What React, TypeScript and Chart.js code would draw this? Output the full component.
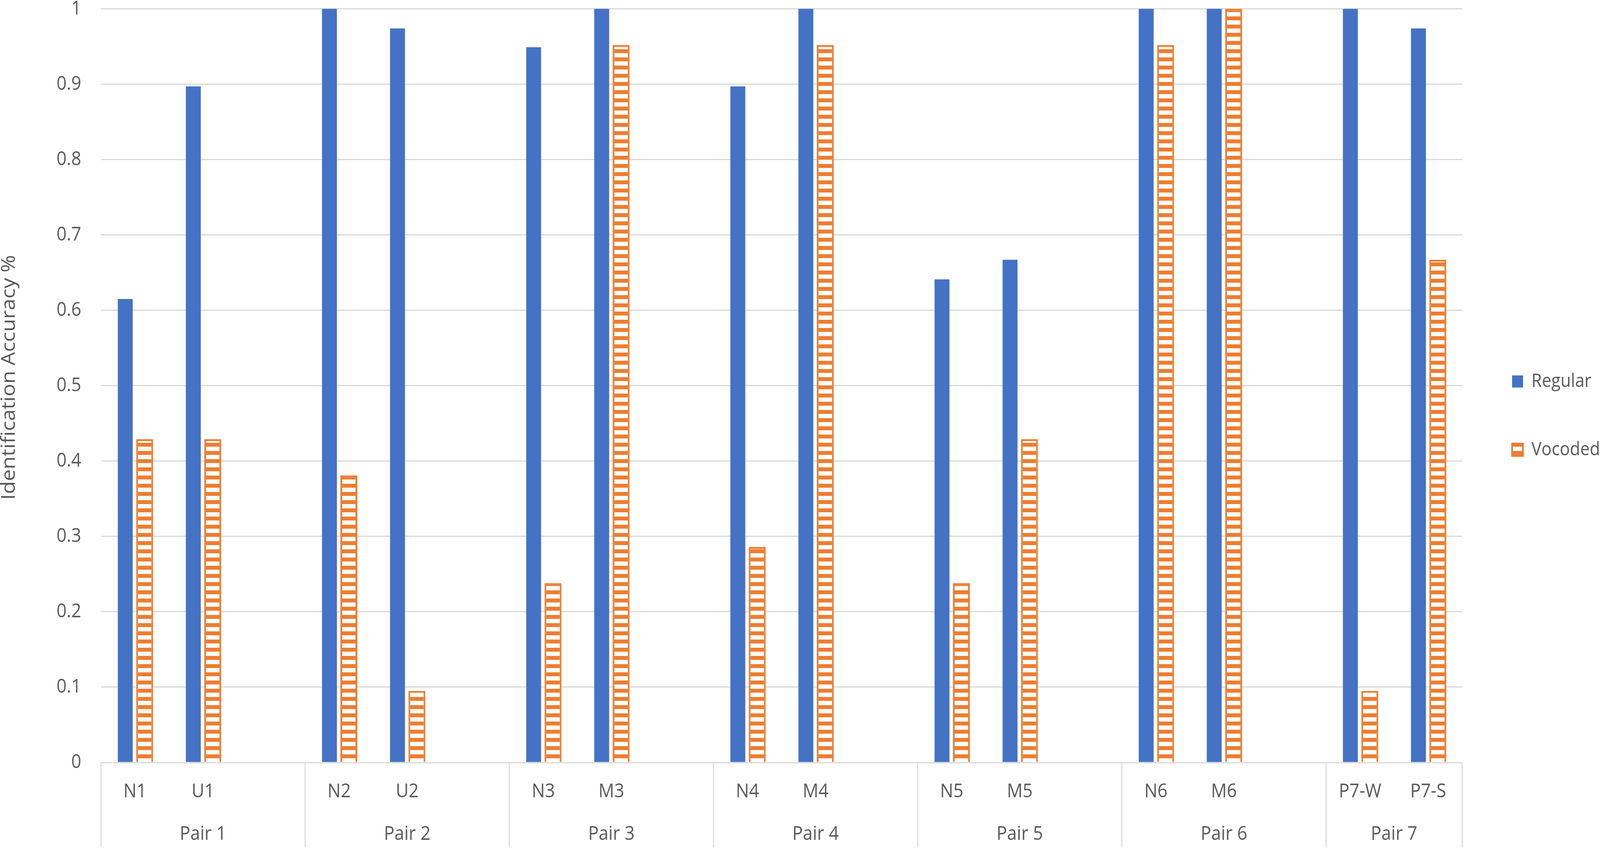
import React, { useEffect, useRef } from 'react';
import { Chart, registerables } from 'chart.js';

Chart.register(...registerables);

// Pairs on the multi-level category axis
const pairNames = ['Pair 1', 'Pair 2', 'Pair 3', 'Pair 4', 'Pair 5', 'Pair 6', 'Pair 7'];
const pairItems = [
  ['N1', 'U1'],
  ['N2', 'U2'],
  ['N3', 'M3'],
  ['N4', 'M4'],
  ['N5', 'M5'],
  ['N6', 'M6'],
  ['P7-W', 'P7-S'],
];

// One value per item, in the same order as pairItems
const regular = [0.615, 0.897, 1, 0.974, 0.949, 1, 0.897, 1, 0.641, 0.667, 1, 1, 1, 0.974];
const vocoded = [0.429, 0.429, 0.381, 0.095, 0.238, 0.952, 0.286, 0.952, 0.238, 0.429, 0.952, 1, 0.095, 0.667];

const yMin = 0;
const yMax = 1;
const yStep = 0.1;

const W = 4550;
const H = 2177;

const BLUE = '#4472C4';
const ORANGE = '#ED7D31';
const GRID = '#D9D9D9';
const TEXT = '#595959';
const FONT = "'Open Sans', sans-serif";

// Excel leaves an empty slot after every pair but the last one
const labels: string[] = [];
const regularSlots: (number | null)[] = [];
const vocodedSlots: (number | null)[] = [];
const pairCenters: number[] = [];
const pairBounds: number[] = [-0.5];
let k = 0;
pairItems.forEach((items, p) => {
  const start = labels.length;
  items.forEach(name => {
    labels.push(name);
    regularSlots.push(regular[k]);
    vocodedSlots.push(vocoded[k]);
    k++;
  });
  if (p < pairItems.length - 1) {
    labels.push('');
    regularSlots.push(null);
    vocodedSlots.push(null);
  }
  pairCenters.push((start + labels.length - 1) / 2);
  pairBounds.push(labels.length - 0.5);
});

// second row of the axis: half-slot grid (offset off), so slot u sits at index 2u + 1
const pairRow: string[] = new Array(labels.length * 2 + 1).fill('');
pairCenters.forEach((c, i) => {
  pairRow[Math.round(2 * c + 1)] = pairNames[i];
});

const App: React.FC = () => {
  const canvasRef = useRef<HTMLCanvasElement>(null);

  useEffect(() => {
    document.body.style.margin = '0';
    document.body.style.overflow = 'hidden';
    if (!canvasRef.current) return;

    // horizontal stripe fill of the Vocoded bars
    const tile = document.createElement('canvas');
    tile.width = 4;
    tile.height = 21;
    const tctx = tile.getContext('2d')!;
    tctx.fillStyle = '#FFFFFF';
    tctx.fillRect(0, 0, 4, 21);
    tctx.fillStyle = ORANGE;
    tctx.fillRect(0, 0, 4, 10);
    const stripes = canvasRef.current.getContext('2d')!.createPattern(tile, 'repeat');

    const separators = {
      id: 'pairSeparators',
      afterDraw(chart: any) {
        const { ctx, chartArea, scales } = chart;
        ctx.save();
        ctx.strokeStyle = GRID;
        ctx.lineWidth = 3;
        pairBounds.forEach(b => {
          const x = scales.x.getPixelForValue(b);
          ctx.beginPath();
          ctx.moveTo(x, chartArea.bottom);
          ctx.lineTo(x, chart.height - 7);
          ctx.stroke();
        });
        ctx.restore();
      },
    };

    const chart = new Chart(canvasRef.current, {
      type: 'bar',
      data: {
        labels,
        datasets: [
          {
            label: 'Regular',
            data: regularSlots,
            backgroundColor: BLUE,
            borderWidth: 0,
            barPercentage: 0.77,
            xAxisID: 'x',
          },
          {
            label: 'Vocoded',
            data: vocodedSlots,
            backgroundColor: stripes as any,
            borderColor: ORANGE,
            borderWidth: 5,
            barPercentage: 0.87,
            xAxisID: 'x',
          },
        ],
      },
      options: {
        animation: false,
        responsive: false,
        devicePixelRatio: 1,
        categoryPercentage: 0.57,
        layout: { padding: { top: 0, right: 0, bottom: 10, left: 0 } },
        scales: {
          x: {
            type: 'category',
            position: 'bottom',
            weight: 0,
            grid: { display: false, drawTicks: true, tickLength: 45 },
            border: { display: false },
            ticks: {
              autoSkip: false,
              maxRotation: 0,
              padding: 0,
              color: TEXT,
              font: { family: FONT, size: 50 },
            },
          },
          pairs: {
            type: 'category',
            labels: pairRow,
            offset: false,
            position: 'bottom',
            weight: 1,
            grid: { display: false, drawTicks: true, tickLength: 49 },
            border: { display: false },
            ticks: {
              autoSkip: false,
              maxRotation: 0,
              padding: 0,
              color: TEXT,
              font: { family: FONT, size: 50 },
            },
          },
          y: {
            min: yMin,
            max: yMax,
            afterFit: (scale: any) => {
              scale.width = 287;
            },
            grid: { color: GRID, lineWidth: 3, drawTicks: true, tickLength: 56, tickColor: 'rgba(0,0,0,0)' },
            border: { display: false },
            ticks: {
              stepSize: yStep,
              padding: 0,
              color: TEXT,
              font: { family: FONT, size: 50, lineHeight: 0.9 },
              callback: (v: any) => String(Number(Number(v).toFixed(1))),
            },
            title: {
              display: true,
              text: '   Identification Accuracy %',
              color: TEXT,
              padding: 0,
              font: { family: FONT, size: 54, lineHeight: 1.0 },
            },
          },
          // keeps a little room between the plot and the legend
          gap: {
            type: 'linear',
            position: 'right',
            grid: { display: false, drawTicks: false },
            border: { display: false },
            ticks: { display: false },
            afterFit: (scale: any) => {
              scale.width = 15;
            },
          },
        },
        plugins: {
          legend: {
            position: 'right',
            fullSize: false,
            maxWidth: 377,
            // empty title only pushes the two entries down to where Excel put them
            title: {
              display: true,
              text: ' ',
              padding: { top: 0, bottom: 103.5 },
              font: { family: FONT, size: 50, lineHeight: 1 },
            },
            labels: {
              boxWidth: 31,
              boxHeight: 31,
              padding: 127,
              color: TEXT,
              font: { family: FONT, size: 48 },
            },
          },
          tooltip: { enabled: false },
        },
      },
      plugins: [separators],
    });

    return () => {
      chart.destroy();
    };
  }, []);

  return (
    <div style={{ position: 'relative', width: '100vw', height: '100vh', overflow: 'hidden' }}>
      <canvas
        ref={canvasRef}
        width={W}
        height={H}
        style={{ display: 'block', width: '100vw', height: '100vh' }}
      ></canvas>
    </div>
  );
};

export default App;
